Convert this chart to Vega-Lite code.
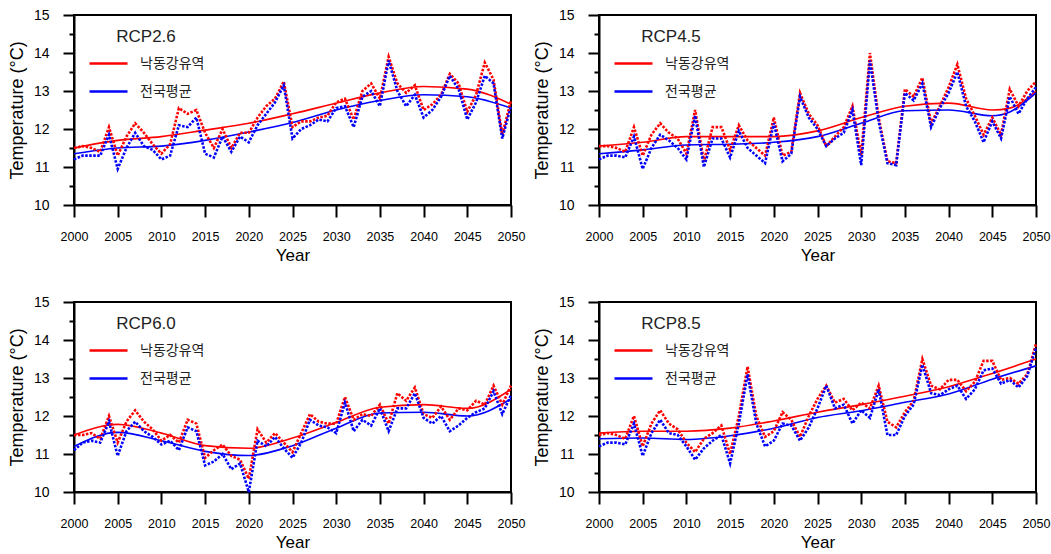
{
  "$schema": "https://vega.github.io/schema/vega-lite/v6.json",
  "padding": {"left": 7, "top": 7, "right": 0, "bottom": 5},
  "background": "white",
  "datasets": {
    "rcp26": [
      {"year":2000,"nakdong":11.5,"national":11.2},{"year":2001,"nakdong":11.55,"national":11.3},{"year":2002,"nakdong":11.5,"national":11.3},{"year":2003,"nakdong":11.4,"national":11.3},{"year":2004,"nakdong":12.05,"national":11.85},{"year":2005,"nakdong":11.3,"national":10.95},{"year":2006,"nakdong":11.8,"national":11.5},{"year":2007,"nakdong":12.15,"national":11.9},{"year":2008,"nakdong":11.9,"national":11.55},{"year":2009,"nakdong":11.6,"national":11.45},
      {"year":2010,"nakdong":11.35,"national":11.2},{"year":2011,"nakdong":11.6,"national":11.3},{"year":2012,"nakdong":12.55,"national":12.1},{"year":2013,"nakdong":12.4,"national":12.05},{"year":2014,"nakdong":12.5,"national":12.3},{"year":2015,"nakdong":11.9,"national":11.35},{"year":2016,"nakdong":11.5,"national":11.25},{"year":2017,"nakdong":12.0,"national":11.8},{"year":2018,"nakdong":11.5,"national":11.4},{"year":2019,"nakdong":11.9,"national":11.8},
      {"year":2020,"nakdong":11.9,"national":11.65},{"year":2021,"nakdong":12.3,"national":12.1},{"year":2022,"nakdong":12.6,"national":12.4},{"year":2023,"nakdong":12.8,"national":12.7},{"year":2024,"nakdong":13.25,"national":13.15},{"year":2025,"nakdong":12.05,"national":11.75},{"year":2026,"nakdong":12.2,"national":12.0},{"year":2027,"nakdong":12.2,"national":12.1},{"year":2028,"nakdong":12.3,"national":12.25},{"year":2029,"nakdong":12.35,"national":12.2},
      {"year":2030,"nakdong":12.7,"national":12.55},{"year":2031,"nakdong":12.8,"national":12.6},{"year":2032,"nakdong":12.25,"national":12.05},{"year":2033,"nakdong":13.0,"national":12.85},{"year":2034,"nakdong":13.2,"national":13.0},{"year":2035,"nakdong":12.8,"national":12.6},{"year":2036,"nakdong":13.9,"national":13.8},{"year":2037,"nakdong":13.2,"national":13.0},{"year":2038,"nakdong":12.95,"national":12.6},{"year":2039,"nakdong":13.15,"national":12.9},
      {"year":2040,"nakdong":12.5,"national":12.3},{"year":2041,"nakdong":12.65,"national":12.5},{"year":2042,"nakdong":12.9,"national":12.85},{"year":2043,"nakdong":13.45,"national":13.4},{"year":2044,"nakdong":13.2,"national":13.05},{"year":2045,"nakdong":12.45,"national":12.25},{"year":2046,"nakdong":12.9,"national":12.7},{"year":2047,"nakdong":13.75,"national":13.4},{"year":2048,"nakdong":13.3,"national":13.2},{"year":2049,"nakdong":11.85,"national":11.75},{"year":2050,"nakdong":12.75,"national":12.6}
    ],
    "rcp45": [
      {"year":2000,"nakdong":11.55,"national":11.2},{"year":2001,"nakdong":11.55,"national":11.3},{"year":2002,"nakdong":11.5,"national":11.3},{"year":2003,"nakdong":11.4,"national":11.25},{"year":2004,"nakdong":12.05,"national":11.8},{"year":2005,"nakdong":11.3,"national":10.95},{"year":2006,"nakdong":11.85,"national":11.5},{"year":2007,"nakdong":12.15,"national":11.85},{"year":2008,"nakdong":11.9,"national":11.7},{"year":2009,"nakdong":11.75,"national":11.5},
      {"year":2010,"nakdong":11.35,"national":11.2},{"year":2011,"nakdong":12.5,"national":12.35},{"year":2012,"nakdong":11.15,"national":11.0},{"year":2013,"nakdong":12.05,"national":11.75},{"year":2014,"nakdong":12.05,"national":11.75},{"year":2015,"nakdong":11.45,"national":11.25},{"year":2016,"nakdong":12.1,"national":11.95},{"year":2017,"nakdong":11.7,"national":11.5},{"year":2018,"nakdong":11.5,"national":11.3},{"year":2019,"nakdong":11.3,"national":11.1},
      {"year":2020,"nakdong":12.3,"national":12.15},{"year":2021,"nakdong":11.3,"national":11.15},{"year":2022,"nakdong":11.4,"national":11.35},{"year":2023,"nakdong":12.95,"national":12.85},{"year":2024,"nakdong":12.4,"national":12.3},{"year":2025,"nakdong":12.1,"national":12.0},{"year":2026,"nakdong":11.55,"national":11.55},{"year":2027,"nakdong":11.8,"national":11.75},{"year":2028,"nakdong":12.05,"national":11.9},{"year":2029,"nakdong":12.6,"national":12.5},
      {"year":2030,"nakdong":11.3,"national":11.05},{"year":2031,"nakdong":14.0,"national":13.8},{"year":2032,"nakdong":12.3,"national":12.2},{"year":2033,"nakdong":11.15,"national":11.1},{"year":2034,"nakdong":11.1,"national":11.05},{"year":2035,"nakdong":13.05,"national":12.95},{"year":2036,"nakdong":12.85,"national":12.75},{"year":2037,"nakdong":13.35,"national":13.2},{"year":2038,"nakdong":12.15,"national":12.05},{"year":2039,"nakdong":12.6,"national":12.55},
      {"year":2040,"nakdong":13.1,"national":12.95},{"year":2041,"nakdong":13.7,"national":13.5},{"year":2042,"nakdong":12.8,"national":12.6},{"year":2043,"nakdong":12.35,"national":12.2},{"year":2044,"nakdong":11.85,"national":11.65},{"year":2045,"nakdong":12.3,"national":12.2},{"year":2046,"nakdong":11.85,"national":11.75},{"year":2047,"nakdong":13.05,"national":12.85},{"year":2048,"nakdong":12.6,"national":12.4},{"year":2049,"nakdong":13.0,"national":12.8},{"year":2050,"nakdong":13.25,"national":13.1}
    ],
    "rcp60": [
      {"year":2000,"nakdong":11.5,"national":11.1},{"year":2001,"nakdong":11.5,"national":11.3},{"year":2002,"nakdong":11.55,"national":11.35},{"year":2003,"nakdong":11.4,"national":11.3},{"year":2004,"nakdong":12.0,"national":11.85},{"year":2005,"nakdong":11.3,"national":10.95},{"year":2006,"nakdong":11.85,"national":11.6},{"year":2007,"nakdong":12.15,"national":11.85},{"year":2008,"nakdong":11.85,"national":11.6},{"year":2009,"nakdong":11.65,"national":11.45},
      {"year":2010,"nakdong":11.35,"national":11.25},{"year":2011,"nakdong":11.5,"national":11.35},{"year":2012,"nakdong":11.3,"national":11.1},{"year":2013,"nakdong":11.9,"national":11.7},{"year":2014,"nakdong":11.8,"national":11.6},{"year":2015,"nakdong":10.9,"national":10.7},{"year":2016,"nakdong":11.1,"national":10.8},{"year":2017,"nakdong":11.25,"national":11.0},{"year":2018,"nakdong":10.95,"national":10.6},{"year":2019,"nakdong":10.85,"national":10.75},
      {"year":2020,"nakdong":10.35,"national":10.0},{"year":2021,"nakdong":11.65,"national":11.35},{"year":2022,"nakdong":11.3,"national":11.2},{"year":2023,"nakdong":11.55,"national":11.45},{"year":2024,"nakdong":11.3,"national":11.15},{"year":2025,"nakdong":11.05,"national":10.9},{"year":2026,"nakdong":11.55,"national":11.3},{"year":2027,"nakdong":12.05,"national":11.9},{"year":2028,"nakdong":11.85,"national":11.75},{"year":2029,"nakdong":11.8,"national":11.7},
      {"year":2030,"nakdong":11.8,"national":11.55},{"year":2031,"nakdong":12.5,"national":12.35},{"year":2032,"nakdong":11.9,"national":11.6},{"year":2033,"nakdong":12.05,"national":11.9},{"year":2034,"nakdong":12.0,"national":11.75},{"year":2035,"nakdong":12.3,"national":12.2},{"year":2036,"nakdong":11.8,"national":11.6},{"year":2037,"nakdong":12.6,"national":12.2},{"year":2038,"nakdong":12.4,"national":12.2},{"year":2039,"nakdong":12.75,"national":12.6},
      {"year":2040,"nakdong":12.05,"national":11.95},{"year":2041,"nakdong":11.95,"national":11.8},{"year":2042,"nakdong":12.25,"national":12.0},{"year":2043,"nakdong":11.9,"national":11.6},{"year":2044,"nakdong":12.2,"national":11.75},{"year":2045,"nakdong":12.15,"national":11.95},{"year":2046,"nakdong":12.4,"national":12.1},{"year":2047,"nakdong":12.3,"national":12.2},{"year":2048,"nakdong":12.8,"national":12.65},{"year":2049,"nakdong":12.3,"national":12.05},{"year":2050,"nakdong":12.8,"national":12.55}
    ],
    "rcp85": [
      {"year":2000,"nakdong":11.5,"national":11.2},{"year":2001,"nakdong":11.55,"national":11.3},{"year":2002,"nakdong":11.5,"national":11.3},{"year":2003,"nakdong":11.4,"national":11.25},{"year":2004,"nakdong":12.0,"national":11.8},{"year":2005,"nakdong":11.2,"national":10.95},{"year":2006,"nakdong":11.8,"national":11.55},{"year":2007,"nakdong":12.15,"national":11.9},{"year":2008,"nakdong":11.8,"national":11.55},{"year":2009,"nakdong":11.65,"national":11.5},
      {"year":2010,"nakdong":11.3,"national":11.2},{"year":2011,"nakdong":11.05,"national":10.85},{"year":2012,"nakdong":11.4,"national":11.15},{"year":2013,"nakdong":11.55,"national":11.35},{"year":2014,"nakdong":11.75,"national":11.5},{"year":2015,"nakdong":11.0,"national":10.75},{"year":2016,"nakdong":12.0,"national":11.8},{"year":2017,"nakdong":13.3,"national":13.1},{"year":2018,"nakdong":12.0,"national":11.8},{"year":2019,"nakdong":11.45,"national":11.2},
      {"year":2020,"nakdong":11.6,"national":11.35},{"year":2021,"nakdong":12.1,"national":11.8},{"year":2022,"nakdong":11.9,"national":11.75},{"year":2023,"nakdong":11.45,"national":11.35},{"year":2024,"nakdong":12.0,"national":11.7},{"year":2025,"nakdong":12.45,"national":12.2},{"year":2026,"nakdong":12.8,"national":12.8},{"year":2027,"nakdong":12.35,"national":12.2},{"year":2028,"nakdong":12.45,"national":12.3},{"year":2029,"nakdong":12.15,"national":11.8},
      {"year":2030,"nakdong":12.35,"national":12.15},{"year":2031,"nakdong":12.2,"national":11.95},{"year":2032,"nakdong":12.8,"national":12.7},{"year":2033,"nakdong":11.85,"national":11.5},{"year":2034,"nakdong":11.7,"national":11.5},{"year":2035,"nakdong":12.1,"national":12.0},{"year":2036,"nakdong":12.4,"national":12.3},{"year":2037,"nakdong":13.5,"national":13.35},{"year":2038,"nakdong":12.8,"national":12.6},{"year":2039,"nakdong":12.7,"national":12.55},
      {"year":2040,"nakdong":12.95,"national":12.7},{"year":2041,"nakdong":12.95,"national":12.8},{"year":2042,"nakdong":12.65,"national":12.45},{"year":2043,"nakdong":12.9,"national":12.7},{"year":2044,"nakdong":13.45,"national":13.2},{"year":2045,"nakdong":13.45,"national":13.25},{"year":2046,"nakdong":12.95,"national":12.85},{"year":2047,"nakdong":13.0,"national":12.95},{"year":2048,"nakdong":12.85,"national":12.75},{"year":2049,"nakdong":13.1,"national":13.05},{"year":2050,"nakdong":13.9,"national":13.8}
    ],
    "rcp26_trend": [
      {"year":2000,"nakdong":11.5,"national":11.35},{"year":2005,"nakdong":11.7,"national":11.5},{"year":2010,"nakdong":11.8,"national":11.55},{"year":2015,"nakdong":11.97,"national":11.7},{"year":2020,"nakdong":12.15,"national":11.92},{"year":2025,"nakdong":12.4,"national":12.17},{"year":2030,"nakdong":12.68,"national":12.5},{"year":2035,"nakdong":12.95,"national":12.75},{"year":2040,"nakdong":13.12,"national":12.9},{"year":2045,"nakdong":13.05,"national":12.85},{"year":2050,"nakdong":12.65,"national":12.55}
    ],
    "rcp45_trend": [
      {"year":2000,"nakdong":11.55,"national":11.35},{"year":2005,"nakdong":11.65,"national":11.45},{"year":2010,"nakdong":11.8,"national":11.58},{"year":2015,"nakdong":11.8,"national":11.6},{"year":2020,"nakdong":11.8,"national":11.65},{"year":2025,"nakdong":11.95,"national":11.8},{"year":2030,"nakdong":12.3,"national":12.15},{"year":2035,"nakdong":12.6,"national":12.48},{"year":2040,"nakdong":12.68,"national":12.5},{"year":2045,"nakdong":12.5,"national":12.35},{"year":2047,"nakdong":12.55,"national":12.45},{"year":2050,"nakdong":13.0,"national":12.95}
    ],
    "rcp60_trend": [
      {"year":2000,"nakdong":11.5,"national":11.2},{"year":2005,"nakdong":11.78,"national":11.57},{"year":2010,"nakdong":11.55,"national":11.35},{"year":2015,"nakdong":11.22,"national":11.07},{"year":2020,"nakdong":11.15,"national":10.96},{"year":2025,"nakdong":11.42,"national":11.22},{"year":2030,"nakdong":11.83,"national":11.68},{"year":2035,"nakdong":12.23,"national":12.08},{"year":2040,"nakdong":12.3,"national":12.1},{"year":2045,"nakdong":12.2,"national":12.0},{"year":2050,"nakdong":12.7,"national":12.45}
    ],
    "rcp85_trend": [
      {"year":2000,"nakdong":11.55,"national":11.4},{"year":2005,"nakdong":11.6,"national":11.42},{"year":2010,"nakdong":11.6,"national":11.38},{"year":2015,"nakdong":11.68,"national":11.48},{"year":2020,"nakdong":11.87,"national":11.68},{"year":2025,"nakdong":12.1,"national":11.96},{"year":2030,"nakdong":12.3,"national":12.14},{"year":2035,"nakdong":12.52,"national":12.36},{"year":2040,"nakdong":12.77,"national":12.58},{"year":2045,"nakdong":13.12,"national":12.97},{"year":2050,"nakdong":13.5,"national":13.32}
    ]
  },
  "columns": 2,
  "spacing": {"row": 97, "column": 88},
  "bounds": "flush",
  "resolve": {"scale": {"color": "independent"}, "legend": {"color": "independent"}},
  "concat": [
    {
      "width": 437, "height": 190,
      "resolve": {"axis": {"y": "independent"}},
      "layer": [
        {
          "data": {"name": "rcp26_trend"},
          "transform": [{"fold": ["nakdong", "national"], "as": ["region", "temp"]}],
          "mark": {"type": "line", "interpolate": "monotone", "strokeWidth": 1.6},
          "encoding": {
            "x": {"field": "year", "type": "quantitative", "scale": {"domain": [2000, 2050], "nice": false, "zero": false}, "axis": {"values": [2000,2005,2010,2015,2020,2025,2030,2035,2040,2045,2050], "format": "d", "title": "Year"}},
            "y": {"field": "temp", "type": "quantitative", "scale": {"domain": [10, 15], "nice": false, "zero": false}, "axis": {"orient": "left", "values": [10.5,11.5,12.5,13.5,14.5], "tickSize": 5, "labels": false, "domain": false, "title": null}},
            "color": {"field": "region", "type": "nominal", "scale": {"domain": ["nakdong", "national"], "range": ["#ff0000", "#0000ff"]}, "legend": {"title": "RCP2.6", "labelExpr": "datum.value == 'nakdong' ? '낙동강유역' : '전국평균'"}}
          }
        },
        {
          "data": {"name": "rcp26"},
          "transform": [{"fold": ["nakdong", "national"], "as": ["region", "temp"]}],
          "mark": {"type": "line", "strokeWidth": 2.6, "strokeDash": [2.5, 1.5]},
          "encoding": {
            "x": {"field": "year", "type": "quantitative", "scale": {"domain": [2000, 2050], "nice": false, "zero": false}, "axis": {"values": [2000,2005,2010,2015,2020,2025,2030,2035,2040,2045,2050], "format": "d", "title": "Year"}},
            "y": {"field": "temp", "type": "quantitative", "scale": {"domain": [10, 15], "nice": false, "zero": false}, "axis": {"orient": "left", "values": [10,11,12,13,14,15], "title": "Temperature (°C)"}},
            "color": {"field": "region", "type": "nominal", "scale": {"domain": ["nakdong", "national"], "range": ["#ff0000", "#0000ff"]}}
          }
        }
      ]
    },
    {
      "width": 437, "height": 190,
      "resolve": {"axis": {"y": "independent"}},
      "layer": [
        {
          "data": {"name": "rcp45_trend"},
          "transform": [{"fold": ["nakdong", "national"], "as": ["region", "temp"]}],
          "mark": {"type": "line", "interpolate": "monotone", "strokeWidth": 1.6},
          "encoding": {
            "x": {"field": "year", "type": "quantitative", "scale": {"domain": [2000, 2050], "nice": false, "zero": false}, "axis": {"values": [2000,2005,2010,2015,2020,2025,2030,2035,2040,2045,2050], "format": "d", "title": "Year"}},
            "y": {"field": "temp", "type": "quantitative", "scale": {"domain": [10, 15], "nice": false, "zero": false}, "axis": {"orient": "left", "values": [10.5,11.5,12.5,13.5,14.5], "tickSize": 5, "labels": false, "domain": false, "title": null}},
            "color": {"field": "region", "type": "nominal", "scale": {"domain": ["nakdong", "national"], "range": ["#ff0000", "#0000ff"]}, "legend": {"title": "RCP4.5", "labelExpr": "datum.value == 'nakdong' ? '낙동강유역' : '전국평균'"}}
          }
        },
        {
          "data": {"name": "rcp45"},
          "transform": [{"fold": ["nakdong", "national"], "as": ["region", "temp"]}],
          "mark": {"type": "line", "strokeWidth": 2.6, "strokeDash": [2.5, 1.5]},
          "encoding": {
            "x": {"field": "year", "type": "quantitative", "scale": {"domain": [2000, 2050], "nice": false, "zero": false}, "axis": {"values": [2000,2005,2010,2015,2020,2025,2030,2035,2040,2045,2050], "format": "d", "title": "Year"}},
            "y": {"field": "temp", "type": "quantitative", "scale": {"domain": [10, 15], "nice": false, "zero": false}, "axis": {"orient": "left", "values": [10,11,12,13,14,15], "title": "Temperature (°C)"}},
            "color": {"field": "region", "type": "nominal", "scale": {"domain": ["nakdong", "national"], "range": ["#ff0000", "#0000ff"]}}
          }
        }
      ]
    },
    {
      "width": 437, "height": 190,
      "resolve": {"axis": {"y": "independent"}},
      "layer": [
        {
          "data": {"name": "rcp60_trend"},
          "transform": [{"fold": ["nakdong", "national"], "as": ["region", "temp"]}],
          "mark": {"type": "line", "interpolate": "monotone", "strokeWidth": 1.6},
          "encoding": {
            "x": {"field": "year", "type": "quantitative", "scale": {"domain": [2000, 2050], "nice": false, "zero": false}, "axis": {"values": [2000,2005,2010,2015,2020,2025,2030,2035,2040,2045,2050], "format": "d", "title": "Year"}},
            "y": {"field": "temp", "type": "quantitative", "scale": {"domain": [10, 15], "nice": false, "zero": false}, "axis": {"orient": "left", "values": [10.5,11.5,12.5,13.5,14.5], "tickSize": 5, "labels": false, "domain": false, "title": null}},
            "color": {"field": "region", "type": "nominal", "scale": {"domain": ["nakdong", "national"], "range": ["#ff0000", "#0000ff"]}, "legend": {"title": "RCP6.0", "labelExpr": "datum.value == 'nakdong' ? '낙동강유역' : '전국평균'"}}
          }
        },
        {
          "data": {"name": "rcp60"},
          "transform": [{"fold": ["nakdong", "national"], "as": ["region", "temp"]}],
          "mark": {"type": "line", "strokeWidth": 2.6, "strokeDash": [2.5, 1.5]},
          "encoding": {
            "x": {"field": "year", "type": "quantitative", "scale": {"domain": [2000, 2050], "nice": false, "zero": false}, "axis": {"values": [2000,2005,2010,2015,2020,2025,2030,2035,2040,2045,2050], "format": "d", "title": "Year"}},
            "y": {"field": "temp", "type": "quantitative", "scale": {"domain": [10, 15], "nice": false, "zero": false}, "axis": {"orient": "left", "values": [10,11,12,13,14,15], "title": "Temperature (°C)"}},
            "color": {"field": "region", "type": "nominal", "scale": {"domain": ["nakdong", "national"], "range": ["#ff0000", "#0000ff"]}}
          }
        }
      ]
    },
    {
      "width": 437, "height": 190,
      "resolve": {"axis": {"y": "independent"}},
      "layer": [
        {
          "data": {"name": "rcp85_trend"},
          "transform": [{"fold": ["nakdong", "national"], "as": ["region", "temp"]}],
          "mark": {"type": "line", "interpolate": "monotone", "strokeWidth": 1.6},
          "encoding": {
            "x": {"field": "year", "type": "quantitative", "scale": {"domain": [2000, 2050], "nice": false, "zero": false}, "axis": {"values": [2000,2005,2010,2015,2020,2025,2030,2035,2040,2045,2050], "format": "d", "title": "Year"}},
            "y": {"field": "temp", "type": "quantitative", "scale": {"domain": [10, 15], "nice": false, "zero": false}, "axis": {"orient": "left", "values": [10.5,11.5,12.5,13.5,14.5], "tickSize": 5, "labels": false, "domain": false, "title": null}},
            "color": {"field": "region", "type": "nominal", "scale": {"domain": ["nakdong", "national"], "range": ["#ff0000", "#0000ff"]}, "legend": {"title": "RCP8.5", "labelExpr": "datum.value == 'nakdong' ? '낙동강유역' : '전국평균'"}}
          }
        },
        {
          "data": {"name": "rcp85"},
          "transform": [{"fold": ["nakdong", "national"], "as": ["region", "temp"]}],
          "mark": {"type": "line", "strokeWidth": 2.6, "strokeDash": [2.5, 1.5]},
          "encoding": {
            "x": {"field": "year", "type": "quantitative", "scale": {"domain": [2000, 2050], "nice": false, "zero": false}, "axis": {"values": [2000,2005,2010,2015,2020,2025,2030,2035,2040,2045,2050], "format": "d", "title": "Year"}},
            "y": {"field": "temp", "type": "quantitative", "scale": {"domain": [10, 15], "nice": false, "zero": false}, "axis": {"orient": "left", "values": [10,11,12,13,14,15], "title": "Temperature (°C)"}},
            "color": {"field": "region", "type": "nominal", "scale": {"domain": ["nakdong", "national"], "range": ["#ff0000", "#0000ff"]}}
          }
        }
      ]
    }
  ],
  "config": {
    "view": {"stroke": "#000000", "strokeWidth": 2},
    "axis": {
      "grid": false,
      "domainColor": "#000000", "domainWidth": 2,
      "tickColor": "#000000", "tickWidth": 2,
      "labelFont": "Liberation Sans, Arial",
      "labelColor": "#000000",
      "titleFont": "Liberation Sans, Arial", "titleFontWeight": "normal", "titleColor": "#000000"
    },
    "axisX": {"tickSize": 12, "labelPadding": 13, "labelFontSize": 12.5, "labelFlush": false, "titlePadding": 5, "titleFontSize": 17},
    "axisY": {"tickSize": 11, "labelPadding": 14, "labelFontSize": 14, "titlePadding": 7, "titleFontSize": 18},
    "legend": {
      "orient": "top-left", "offset": 14, "padding": 0,
      "titleFont": "Liberation Sans, Arial", "titleFontSize": 17, "titleFontWeight": "normal", "titleColor": "#222222",
      "titleAnchor": "middle", "titlePadding": -3,
      "labelFont": "Noto Sans CJK KR", "labelFontSize": 14, "labelColor": "#222222", "labelOffset": 11,
      "symbolType": "stroke", "symbolSize": 1444, "symbolStrokeWidth": 2.5, "symbolDash": [100, 0],
      "rowPadding": -6
    }
  }
}
